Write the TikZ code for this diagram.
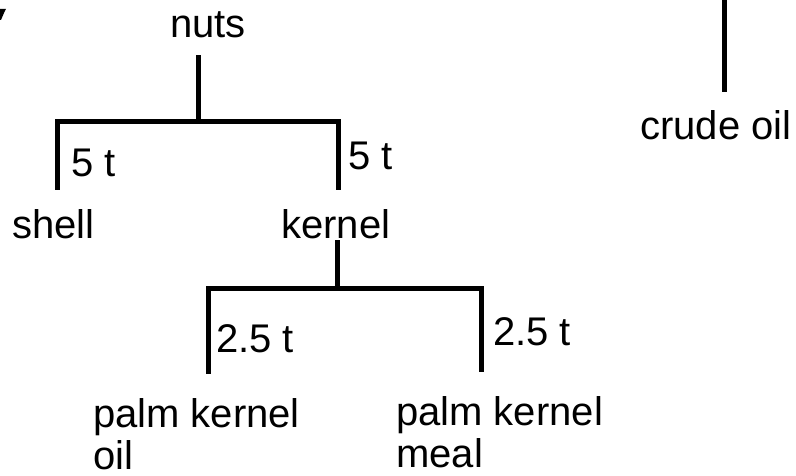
\documentclass[tikz,border=0pt]{standalone}
\usepackage{fontspec}
\setmainfont{Liberation Sans}
\begin{document}
\begin{tikzpicture}[x=1pt,y=-1pt,
  lbl/.style={inner sep=0pt,anchor=base west,align=left,
    font=\fontsize{40}{42}\selectfont},
  conn/.style={line width=5pt,line cap=rect,line join=miter}]
\useasboundingbox[fill=white] (0,0) rectangle (796,476);

% stray mark at the upper left corner
\fill (0,9) -- (6,9) -- (4,13) -- (1,20) -- (0,20) -- cycle;

% product labels (two-line labels are placed by their last line)
\node[lbl] (nuts)   at (170,38)  {nuts};
\node[lbl] (crude)  at (640,140) {crude oil};
\node[lbl] (shell)  at (12,238)  {shell};
\node[lbl] (kernel) at (281,238) {kernel};
\node[lbl] (pko)    at (93,469)  {palm kernel\\oil};
\node[lbl] (pkm)    at (396,467) {palm kernel\\meal};

% mass labels
\node[lbl] (mShell)  at (71,177)  {5 t};
\node[lbl] (mKernel) at (348,170) {5 t};
\node[lbl] (mPko)    at (216,352) {2.5 t};
\node[lbl] (mPkm)    at (493,345) {2.5 t};

% first split: nuts -> shell / kernel
\coordinate (nutsTop)   at (198,58);
\coordinate (nutsJoin)  at (198,122);
\coordinate (barAL)     at (57,122);
\coordinate (barAR)     at (338,122);
\coordinate (shellEnd)  at (57,188);
\coordinate (kernelEnd) at (338,188);
\draw[conn] (nutsTop) -- (nutsJoin);
\draw[conn] (shellEnd) -- (barAL) -- (barAR) -- (kernelEnd);

% second split: kernel -> palm kernel oil / meal
\coordinate (kernTop)  at (337,243);
\coordinate (kernJoin) at (337,288);
\coordinate (barBL)    at (208,288);
\coordinate (barBR)    at (481,288);
\coordinate (pkoEnd)   at (208,371);
\coordinate (pkmEnd)   at (481,369);
\draw[conn] (kernTop) -- (kernJoin);
\draw[conn] (pkoEnd) -- (barBL) -- (barBR) -- (pkmEnd);

% line into crude oil
\coordinate (crudeTop) at (724,0);
\coordinate (crudeEnd) at (724,92);
\draw[conn,line cap=butt] (crudeTop) -- (crudeEnd);
\end{tikzpicture}
\end{document}
